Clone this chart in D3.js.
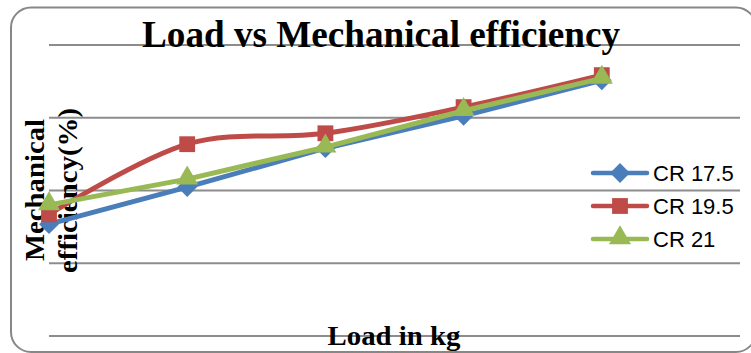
<!DOCTYPE html>
<html>
<head>
<meta charset="utf-8">
<script src="https://cdn.jsdelivr.net/npm/d3@7/dist/d3.min.js"></script>
<style>
  html, body { margin: 0; padding: 0; background: #fff; }
  svg { display: block; }
</style>
</head>
<body>
<svg id="chart" width="751" height="353"></svg>
<script>
// Load steps (kg) and mechanical efficiency (%) for three compression ratios
const loads = [0, 3, 6, 9, 12];
const cr175 = [30.6, 40.8, 51.5, 60.4, 70.2];
const cr195 = [33.3, 52.6, 55.6, 62.8, 71.6];
const cr21  = [35.9, 43.0, 51.8, 61.8, 70.7];
const seriesNames = ["CR 17.5", "CR 19.5", "CR 21"];
const yTicks = [0, 20, 40, 60, 80];

const colors = ["#4A7EBB", "#BE4B48", "#98B954"];
const symbols = [d3.symbolDiamond2, d3.symbolSquare, d3.symbolTriangle];
const curves = [d3.curveLinear, d3.curveCardinal.tension(0), d3.curveLinear];

const plot = { left: 49, right: 740, top: 44.6, bottom: 335.4 };

const svg = d3.select("#chart");

// outer chart-area frame with rounded corners
svg.append("rect")
  .attr("x", 11).attr("y", 7.5)
  .attr("width", 745).attr("height", 344.5)
  .attr("rx", 20).attr("ry", 20)
  .attr("fill", "#fff")
  .attr("stroke", "#878787").attr("stroke-width", 2);

const x = d3.scaleLinear().domain([0, 15]).range([plot.left, plot.right]);
const y = d3.scaleLinear().domain([0, 80]).range([plot.bottom, plot.top]);

// horizontal gridlines
const grid = d3.axisLeft(y).tickValues(yTicks).tickSize(-(plot.right - plot.left)).tickFormat("");
svg.append("g")
  .attr("transform", `translate(${plot.left},0)`)
  .call(grid)
  .call(g => g.select(".domain").remove())
  .call(g => g.selectAll(".tick line").attr("stroke", "#8C8C8C").attr("stroke-width", 2));

const serif = "'Liberation Serif', 'Times New Roman', serif";

// title
svg.append("text")
  .attr("x", 381).attr("y", 47)
  .attr("text-anchor", "middle")
  .attr("font-family", serif)
  .attr("font-weight", "bold")
  .attr("font-size", 38)
  .attr("textLength", 478).attr("lengthAdjust", "spacingAndGlyphs")
  .text("Load vs Mechanical efficiency");

// x axis title
svg.append("text")
  .attr("x", 394).attr("y", 345)
  .attr("text-anchor", "middle")
  .attr("font-family", serif)
  .attr("font-weight", "bold")
  .attr("font-size", 28)
  .attr("textLength", 133).attr("lengthAdjust", "spacingAndGlyphs")
  .text("Load in kg");

// y axis title (two lines, rotated)
const yTitle = svg.append("g").attr("transform", "translate(0,190) rotate(-90)");
yTitle.append("text")
  .attr("x", -71).attr("y", 44)
  .attr("font-family", serif).attr("font-weight", "bold").attr("font-size", 28)
  .attr("textLength", 142).attr("lengthAdjust", "spacingAndGlyphs")
  .text("Mechanical");
yTitle.append("text")
  .attr("x", -83).attr("y", 77)
  .attr("font-family", serif).attr("font-weight", "bold").attr("font-size", 28)
  .attr("textLength", 165).attr("lengthAdjust", "spacingAndGlyphs")
  .text("efficiency(%)");

// series lines and markers
const allSeries = [cr175, cr195, cr21];
allSeries.forEach((vals, i) => {
  const pts = loads.map((l, j) => [l, vals[j]]);
  const line = d3.line().x(d => x(d[0])).y(d => y(d[1])).curve(curves[i]);
  svg.append("path")
    .attr("d", line(pts))
    .attr("fill", "none")
    .attr("stroke", colors[i])
    .attr("stroke-width", 5)
    .attr("stroke-linejoin", "round")
    .attr("stroke-linecap", "round");
  const size = i === 2 ? 210 : 250;
  svg.append("g").selectAll("path")
    .data(pts)
    .join("path")
    .attr("transform", d => `translate(${x(d[0])},${y(d[1]) + (i === 2 ? -1 : 0)})`)
    .attr("d", d3.symbol().type(symbols[i]).size(size))
    .attr("fill", colors[i]);
});

// legend
const legend = svg.append("g");
seriesNames.forEach((name, i) => {
  const ly = 173 + i * 33;
  const g = legend.append("g").attr("transform", `translate(593,${ly})`);
  g.append("line")
    .attr("x1", 0).attr("x2", 54).attr("y1", 0).attr("y2", 0)
    .attr("stroke", colors[i]).attr("stroke-width", 4.5).attr("stroke-linecap", "round");
  g.append("path")
    .attr("transform", `translate(27,${i === 2 ? -1 : 0})`)
    .attr("d", d3.symbol().type(symbols[i]).size(i === 2 ? 210 : 250))
    .attr("fill", colors[i]);
  g.append("text")
    .attr("x", 60).attr("y", 8)
    .attr("font-family", "'Liberation Sans', Arial, sans-serif")
    .attr("font-size", 22)
    .attr("fill", "#000")
    .text(name);
});
</script>
</body>
</html>
